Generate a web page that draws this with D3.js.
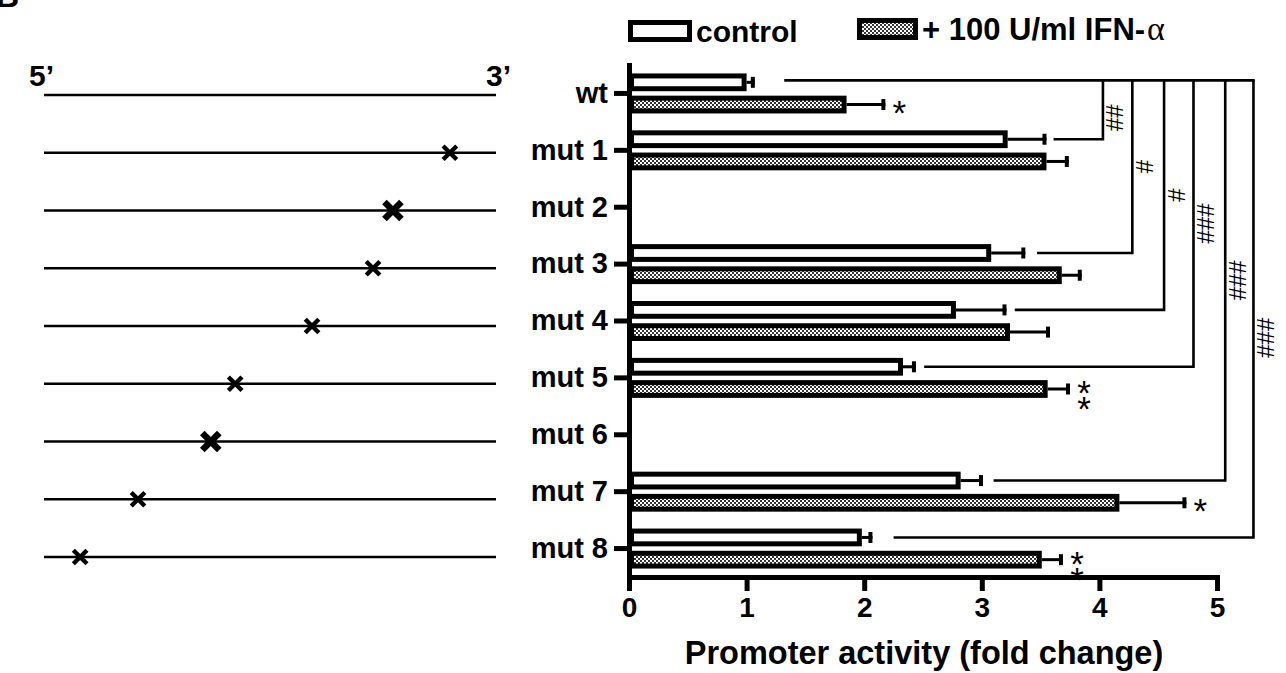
<!DOCTYPE html>
<html>
<head>
<meta charset="utf-8">
<script src="https://cdn.jsdelivr.net/npm/d3@7"></script>
<style>
  body { margin: 0; background: #fff; }
  svg { display: block; }
</style>
</head>
<body>
<svg id="chart" width="1286" height="673"></svg>
<script>
// ---------------- DATA ----------------
const categories = ["wt", "mut 1", "mut 2", "mut 3", "mut 4", "mut 5", "mut 6", "mut 7", "mut 8"];
const series = ["control", "ifn"];
const seriesLabels = ["control", "+ 100 U/ml IFN-"];
const controlValues = [1.00, 3.22, null, 3.08, 2.78, 2.33, null, 2.82, 1.98];
const controlErrors = [0.07, 0.33, null, 0.29, 0.43, 0.11, null, 0.19, 0.09];
const ifnValues     = [1.85, 3.55, null, 3.68, 3.24, 3.56, null, 4.17, 3.51];
const ifnErrors     = [0.33, 0.19, null, 0.17, 0.34, 0.19, null, 0.57, 0.18];
const ifnStars      = ["*", "", "", "", "", "**", "", "*", "**"];
const xTicks = [0, 1, 2, 3, 4, 5];
const xTitle = "Promoter activity (fold change)";

// significance brackets (wt control vs. each mutant control)
const bracketTargets = ["mut 1", "mut 3", "mut 4", "mut 5", "mut 7", "mut 8"];
const bracketLevel   = [4.03, 4.28, 4.55, 4.80, 5.07, 5.31];   // x value of vertical line
const bracketStart   = [3.61, 3.47, 3.28, 2.51, 3.10, 2.25];   // where horizontal leg begins
const bracketLabels  = ["##", "#", "#", "###", "###", "###"];
const wtBracketStart = 1.32;

// schematic (relative position of the mutation along the promoter 5'->3')
const mutationPos  = [null, 0.898, 0.772, 0.728, 0.593, 0.423, 0.369, 0.208, 0.080];
const mutationType = ["none", "single", "double", "single", "single", "single", "double", "single", "single"];

// ---------------- DRAWING ----------------
const FONT = "'Liberation Sans', Arial, Helvetica, sans-serif";
const svg = d3.select("#chart");

const x = d3.scaleLinear().domain([0, 5]).range([629, 1217]);
const y = d3.scaleBand().domain(categories).range([65, 577]).padding(0);
const sub = d3.scaleBand().domain(series).range([-20, 20]).paddingInner(0.2);
const SW = 5;

const defs = svg.append("defs");
const pat = defs.append("pattern").attr("id", "checker")
  .attr("width", 4).attr("height", 4).attr("patternUnits", "userSpaceOnUse");
pat.append("rect").attr("width", 4).attr("height", 4).attr("fill", "#fff");
pat.append("rect").attr("width", 2).attr("height", 2).attr("fill", "#333");
pat.append("rect").attr("x", 2).attr("y", 2).attr("width", 2).attr("height", 2).attr("fill", "#333");

// panel letter (cut off at top in the original figure)
svg.append("text").attr("x", -4).attr("y", 7)
  .attr("font-family", FONT).attr("font-weight", "bold").attr("font-size", 32)
  .text("B");

// ---- schematic ----
const sx = d3.scaleLinear().domain([0, 1]).range([44, 496]);
const sy = d3.scalePoint().domain(categories).range([95, 557]);

svg.append("text").attr("x", 29).attr("y", 86)
  .attr("font-family", FONT).attr("font-weight", "bold").attr("font-size", 30)
  .text("5\u2019");
svg.append("text").attr("x", 511).attr("y", 86).attr("text-anchor", "end")
  .attr("font-family", FONT).attr("font-weight", "bold").attr("font-size", 30)
  .text("3\u2019");

const schem = svg.append("g");
schem.selectAll("line.prom").data(categories).join("line")
  .attr("class", "prom")
  .attr("x1", sx(0)).attr("x2", sx(1))
  .attr("y1", d => sy(d)).attr("y2", d => sy(d))
  .attr("stroke", "#000").attr("stroke-width", 2.6);

const marks = categories.map((c, i) => ({ c, p: mutationPos[i], t: mutationType[i] }))
  .filter(d => d.p != null);
schem.selectAll("path.mark").data(marks).join("path")
  .attr("class", "mark")
  .attr("d", d => {
    const r = d.t === "double" ? 8.5 : 6.8;
    const cx = sx(d.p), cy = sy(d.c);
    return `M${cx - r},${cy - r}L${cx + r},${cy + r}M${cx - r},${cy + r}L${cx + r},${cy - r}`;
  })
  .attr("stroke", "#000")
  .attr("stroke-width", d => d.t === "double" ? 6.5 : 4.4)
  .attr("fill", "none");

// ---- bars ----
const rows = [];
categories.forEach((c, i) => {
  if (controlValues[i] != null) rows.push({ c, s: "control", v: controlValues[i], e: controlErrors[i], star: "" });
  if (ifnValues[i] != null) rows.push({ c, s: "ifn", v: ifnValues[i], e: ifnErrors[i], star: ifnStars[i] });
});
const barCenter = d => y(d.c) + y.bandwidth() / 2 + sub(d.s) + sub.bandwidth() / 2;

const gBars = svg.append("g");
gBars.selectAll("line.err").data(rows).join("line")
  .attr("class", "err")
  .attr("x1", d => x(d.v)).attr("x2", d => x(d.v + d.e))
  .attr("y1", barCenter).attr("y2", barCenter)
  .attr("stroke", "#000").attr("stroke-width", 3);
gBars.selectAll("line.cap").data(rows).join("line")
  .attr("class", "cap")
  .attr("x1", d => x(d.v + d.e) - 2).attr("x2", d => x(d.v + d.e) - 2)
  .attr("y1", d => barCenter(d) - 5.5).attr("y2", d => barCenter(d) + 5.5)
  .attr("stroke", "#000").attr("stroke-width", 4);
gBars.selectAll("rect.bar").data(rows).join("rect")
  .attr("class", "bar")
  .attr("x", x(0) + SW / 2)
  .attr("y", d => y(d.c) + y.bandwidth() / 2 + sub(d.s) + SW / 2)
  .attr("width", d => x(d.v) - x(0) - SW)
  .attr("height", sub.bandwidth() - SW)
  .attr("fill", d => d.s === "control" ? "#fff" : "url(#checker)")
  .attr("stroke", "#000").attr("stroke-width", SW);

// stars (significance vs. control)
const starRows = rows.filter(d => d.star);
starRows.forEach(d => {
  const n = d.star.length;
  const cx = x(d.v + d.e) + 14;
  const cy = barCenter(d);
  const offs = n === 1 ? [0] : [-4, 12];
  d3.range(n).forEach(k => {
    svg.append("text")
      .attr("x", cx).attr("y", cy + offs[k] + 20)
      .attr("text-anchor", "middle")
      .attr("font-family", FONT).attr("font-size", 35)
      .text("*");
  });
});

// ---- brackets ----
const controlY = c => y(c) + y.bandwidth() / 2 + sub("control") + sub.bandwidth() / 2;
const wtY = controlY("wt") - 2;
const gBr = svg.append("g").attr("fill", "none").attr("stroke", "#000").attr("stroke-width", 2.6);
gBr.append("line")
  .attr("x1", x(wtBracketStart)).attr("x2", x(d3.max(bracketLevel)) + 1.3)
  .attr("y1", wtY).attr("y2", wtY);
const brData = bracketTargets.map((t, i) => ({ t, lv: bracketLevel[i], st: bracketStart[i], lab: bracketLabels[i] }));
gBr.selectAll("path").data(brData).join("path")
  .attr("d", d => `M${x(d.st)},${controlY(d.t)}H${x(d.lv)}V${wtY}`);

const labelShift = [8, 0, 0, 0, 0, 29];
brData.forEach((d, i) => {
  const cx = x(d.lv) + 12;
  const cy = (wtY + controlY(d.t)) / 2 + labelShift[i];
  svg.append("text")
    .attr("transform", `translate(${cx},${cy}) rotate(90)`)
    .attr("text-anchor", "middle").attr("dominant-baseline", "central")
    .attr("font-family", FONT).attr("font-size", 24)
    .text(d.lab);
});

// ---- axes ----
const yAxis = d3.axisLeft(y).tickSize(15).tickSizeOuter(0).tickPadding(6);
const gy = svg.append("g").attr("transform", `translate(${x(0)},0)`).call(yAxis);
gy.select(".domain").attr("stroke-width", SW).attr("stroke-linecap", "square");
gy.selectAll(".tick line").attr("stroke-width", SW);
gy.selectAll(".tick text").attr("font-family", FONT).attr("font-weight", "bold")
  .attr("font-size", 29).attr("fill", "#000");

const xAxis = d3.axisBottom(x).tickValues(xTicks).tickSize(14).tickSizeOuter(0).tickPadding(6)
  .tickFormat(d3.format("d"));
const gx = svg.append("g").attr("transform", `translate(0,577)`).call(xAxis);
gx.select(".domain").attr("stroke-width", SW).attr("stroke-linecap", "square");
gx.selectAll(".tick line").attr("stroke-width", SW);
gx.selectAll(".tick text").attr("font-family", FONT).attr("font-weight", "bold")
  .attr("font-size", 28).attr("fill", "#000");

svg.append("text")
  .attr("x", (x(0) + x(5)) / 2 + 1).attr("y", 664)
  .attr("text-anchor", "middle")
  .attr("font-family", FONT).attr("font-weight", "bold").attr("font-size", 32.5)
  .text(xTitle);

// ---- legend ----
const legendX = [628, 857];
const legendTextY = [42, 40];
series.forEach((s, i) => {
  svg.append("rect")
    .attr("x", legendX[i] + SW / 2).attr("y", legendTextY[i] - 22 + SW / 2)
    .attr("width", (i === 0 ? 64 : 61) - SW).attr("height", 22 - SW)
    .attr("fill", s === "control" ? "#fff" : "url(#checker)")
    .attr("stroke", "#000").attr("stroke-width", SW);
  const t = svg.append("text")
    .attr("x", legendX[i] + (i === 0 ? 68 : 65)).attr("y", legendTextY[i])
    .attr("font-family", FONT).attr("font-weight", "bold").attr("font-size", i === 0 ? 30 : 31)
    .text(seriesLabels[i]);
  if (s === "ifn") {
    t.append("tspan").attr("font-family", "'Liberation Serif', 'Times New Roman', serif")
      .attr("font-weight", "normal").attr("font-size", 34).attr("dx", 2).text("\u03B1");
  }
});
</script>
</body>
</html>
